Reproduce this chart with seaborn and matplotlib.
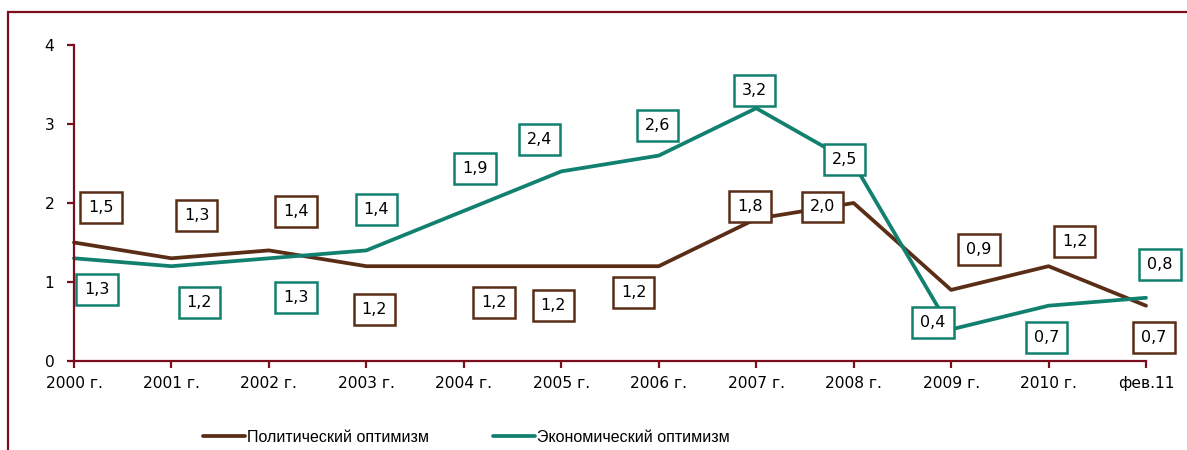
import matplotlib.pyplot as plt
import matplotlib.patches as patches
import numpy as np
import pandas as pd
import seaborn as sns

periods = ["2000 г.", "2001 г.", "2002 г.", "2003 г.", "2004 г.", "2005 г.",
           "2006 г.", "2007 г.", "2008 г.", "2009 г.", "2010 г.", "фев.11"]
political = [1.5, 1.3, 1.4, 1.2, 1.2, 1.2, 1.2, 1.8, 2.0, 0.9, 1.2, 0.7]
economic = [1.3, 1.2, 1.3, 1.4, 1.9, 2.4, 2.6, 3.2, 2.5, 0.4, 0.7, 0.8]
series_names = ["Политический оптимизм", "Экономический оптимизм"]

# label box offsets from the point, in pixels (dx, dy up)
pol_offsets = [(27, 35), (25, 43), (27, 39), (8, -43), (30, -36), (-8, -39),
               (-25, -26), (-6, 12), (-31, -4), (28, 40), (26, 25), (8, -32)]
eco_offsets = [(23, -31), (28, -36), (27, -39), (10, 41), (11, 42), (-22, 32),
               (-1, 30), (-2, 18), (-9, 4), (-18, 7), (-2, -32), (14, 33)]

brown = "#5A2D16"
teal = "#12806F"
axis_col = "#7A0E1C"

df = pd.DataFrame({
    "x": list(range(len(periods))) * 2,
    "value": political + economic,
    "series": [series_names[0]] * len(periods) + [series_names[1]] * len(periods),
})

sns.set_style("white")
plt.rcParams['font.family'] = ['DejaVu Sans']
plt.rcParams['text.color'] = 'black'

fig = plt.figure(figsize=(11.87, 4.5), dpi=100)
ax = fig.add_axes([74 / 1187, 1 - 361 / 450, (1146 - 74) / 1187, (361 - 45) / 450])

sns.lineplot(data=df, x="x", y="value", hue="series",
             palette=[brown, teal], linewidth=2.7, ax=ax, legend=False)

ax.set_xlim(0, len(periods) - 1)
ax.set_ylim(0, 4)
ax.set_yticks([0, 1, 2, 3, 4])
ax.set_xticks(range(len(periods)))
ax.set_xticklabels(periods)
ax.set_xlabel("")
ax.set_ylabel("")
for s in ["top", "right"]:
    ax.spines[s].set_visible(False)
for s in ["left", "bottom"]:
    ax.spines[s].set_color(axis_col)
    ax.spines[s].set_linewidth(1.6)
ax.tick_params(axis="both", colors=axis_col, width=1.6, length=5,
               labelcolor="black", labelsize=11.2, bottom=True, left=True,
               direction="out")
ax.tick_params(axis="x", pad=6)
ax.tick_params(axis="y", pad=9)
for line in ax.lines:
    line.set_clip_on(False)


def fmt(v):
    return f"{v:.1f}".replace(".", ",")


for vals, offs, col in [(political, pol_offsets, brown), (economic, eco_offsets, teal)]:
    for i, (v, (dx, dy)) in enumerate(zip(vals, offs)):
        ax.annotate(fmt(v), (i, v), xytext=(dx * 0.72, dy * 0.72),
                    textcoords="offset points", ha="center", va="center",
                    fontsize=11.5, color="black", zorder=5,
                    bbox=dict(boxstyle="square,pad=0.5", fc="white",
                              ec=col, lw=1.8))

handles = [plt.Line2D([], [], color=brown, lw=2.7),
           plt.Line2D([], [], color=teal, lw=2.7)]
fig.legend(handles, series_names, loc="center", bbox_to_anchor=(0.393, 1 - 437 / 450),
           ncol=2, frameon=False, handlelength=2.6, labelcolor="black",
           handletextpad=0.15, columnspacing=4.0,
           prop={"family": "Liberation Sans", "size": 11.5})

fig.patches.append(patches.Rectangle((8 / 1187, -0.05), 1.1, 1 - 12 / 450 + 0.05,
                                     transform=fig.transFigure, fill=False,
                                     ec=axis_col, lw=1.6))

fig.savefig("out.png", dpi=100)
